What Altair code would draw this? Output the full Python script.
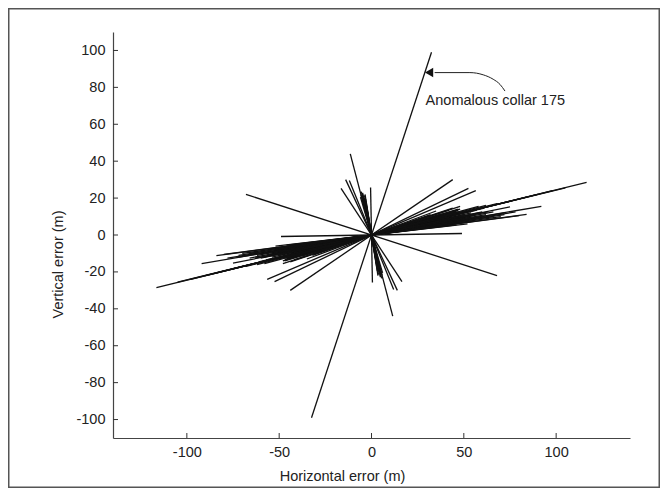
import altair as alt
import pandas as pd

# Endpoints of each error vector (drawn symmetrically through the origin)
end_x = [32.5, 116.5, 105, 98, 90, 84, 76, 68,
         92, 75, 84, 80, 78, 72, 70, 66, 62, 58, 55, 52, 50, 48, 46, 45, 44,
         42, 40, 40, 38, 36, 35, 33, 30, 28,
         47, 46, 45, 47, 43, 41, 39, 48, 50, 51, 53, 54, 56, 57, 59, 60, 61, 63,
         47, 44, 49, 45, 43, 48, 46, 42, 50, 45, 41, 47, 44, 49, 66, 72,
         42, 44, 38, 37, 34, 32, 55, 52, 46, 58, 62, 48,
         49, 44, 52.5, 56.5, 68,
         -11.5, -16.5, -14, -12, -0.5,
         -5.5, -5, -4.5, -4, -3.5, -3, -6,
         -4.8, -5.2, -4.2, -3.8, -5.8, -4.5, -3.2, -2.8]
end_y = [99, 28.5, 25.5, 24, 22, 20.5, 18.5, 17,
         15.5, 15.3, 11.2, 10.5, 12.5, 12, 10, 12.5, 11, 12, 10.5, 13, 9, 14, 12.5, 8, 10.5,
         6, 11.5, 7.5, 5, 9, 13, 6.5, 10, 4.5,
         13.5, 11, 9.5, 7, 12, 9, 6.5, 10, 11, 8, 9.5, 12, 11, 13.5, 10, 12.5, 14.5, 12.5,
         12.5, 8.5, 12, 6.5, 11, 9.5, 13, 10, 10.5, 11.5, 8, 14, 5.5, 9, 10, 11,
         13.5, 14.5, 11.5, 7.5, 8, 11, 7.5, 6, 5.5, 15.5, 16, 15.5,
         0.8, 30, 25.3, 24, -22,
         44, 25.3, 30, 29.5, 25.7,
         23.5, 22.5, 21, 20, 22, 17, 20.5,
         22.8, 21, 19, 21.5, 22, 18, 19.5, 16]

x_ticks = [-100, -50, 0, 50, 100]
y_ticks = [-100, -80, -60, -40, -20, 0, 20, 40, 60, 80, 100]

# Annotation arrow path and label (data coordinates)
arrow_x = [34.2, 53.3, 60.5, 65.9, 69.6, 72.3]
arrow_y = [88.0, 88.0, 86.8, 84.4, 81.6, 78.0]
label_text = "Anomalous collar 175"

lines = pd.DataFrame({
    "x": [-v for v in end_x], "y": [-v for v in end_y],
    "x2": end_x, "y2": end_y,
})

W, H = 517, 406
FONT = "Liberation Sans"
FS = 14.5

xs = alt.Scale(domain=[-140, 140], nice=False)
ys = alt.Scale(domain=[-110, 110], nice=False)

x_axis = alt.Axis(values=x_ticks, ticks=False, grid=False, labelPadding=7,
                  labelExpr="'' + datum.value",
                  title="Horizontal error (m)", titleX=229, titleY=38,
                  titleBaseline="middle", titleAlign="center")
y_axis = alt.Axis(values=y_ticks, ticks=False, grid=False, labelPadding=8,
                  labelExpr="'' + datum.value",
                  title="Vertical error (m)", titleX=-55, titleY=232,
                  titleBaseline="middle", titleAlign="center", titleAngle=270)

vec = alt.Chart(lines).mark_rule(color="#111", strokeWidth=1.3).encode(
    x=alt.X("x:Q", scale=xs, axis=x_axis),
    y=alt.Y("y:Q", scale=ys, axis=y_axis),
    x2="x2:Q", y2="y2:Q",
)

ytick = alt.Chart(pd.DataFrame({"v": y_ticks})).mark_rule(color="#333", strokeWidth=1).encode(
    y=alt.Y("v:Q", scale=ys), x=alt.value(0), x2=alt.value(5))
xtick = alt.Chart(pd.DataFrame({"v": x_ticks})).mark_rule(color="#333", strokeWidth=1).encode(
    x=alt.X("v:Q", scale=xs), y=alt.value(H), y2=alt.value(H - 5))

arrow_df = pd.DataFrame({"x": arrow_x, "y": arrow_y, "o": list(range(len(arrow_x)))})
arrow = alt.Chart(arrow_df).mark_line(color="#222", strokeWidth=1, interpolate="monotone").encode(
    x=alt.X("x:Q", scale=xs), y=alt.Y("y:Q", scale=ys), order="o:O")
head = alt.Chart(pd.DataFrame({"x": [31.2], "y": [88.0]})).mark_point(
    shape="triangle-left", filled=True, color="#111", size=90, opacity=1).encode(
    x=alt.X("x:Q", scale=xs), y=alt.Y("y:Q", scale=ys))
label = alt.Chart(pd.DataFrame({"x": [29.3], "y": [72.8], "t": [label_text]})).mark_text(
    align="left", baseline="middle", font=FONT, fontSize=FS, color="#222").encode(
    x=alt.X("x:Q", scale=xs), y=alt.Y("y:Q", scale=ys), text="t:N")

frame = alt.Chart(pd.DataFrame({"a": [0]})).mark_rect(
    filled=False, stroke="#555", strokeWidth=1.5).encode(
    x=alt.value(-104.25), x2=alt.value(546.25), y=alt.value(-23.25), y2=alt.value(455.25))

chart = alt.layer(frame, vec, ytick, xtick, arrow, head, label).properties(
    width=W, height=H,
    padding={"left": 105, "top": 24, "right": 30, "bottom": 50},
    autosize=alt.AutoSizeParams(type="none"),
).configure_view(stroke=None).configure_axis(
    domainColor="#444", domainWidth=1.2,
    labelFont=FONT, labelFontSize=FS, labelColor="#222",
    titleFont=FONT, titleFontSize=FS, titleColor="#222", titleFontWeight="normal",
)

chart.save("out.html", embed_options={"renderer": "svg", "actions": False})
